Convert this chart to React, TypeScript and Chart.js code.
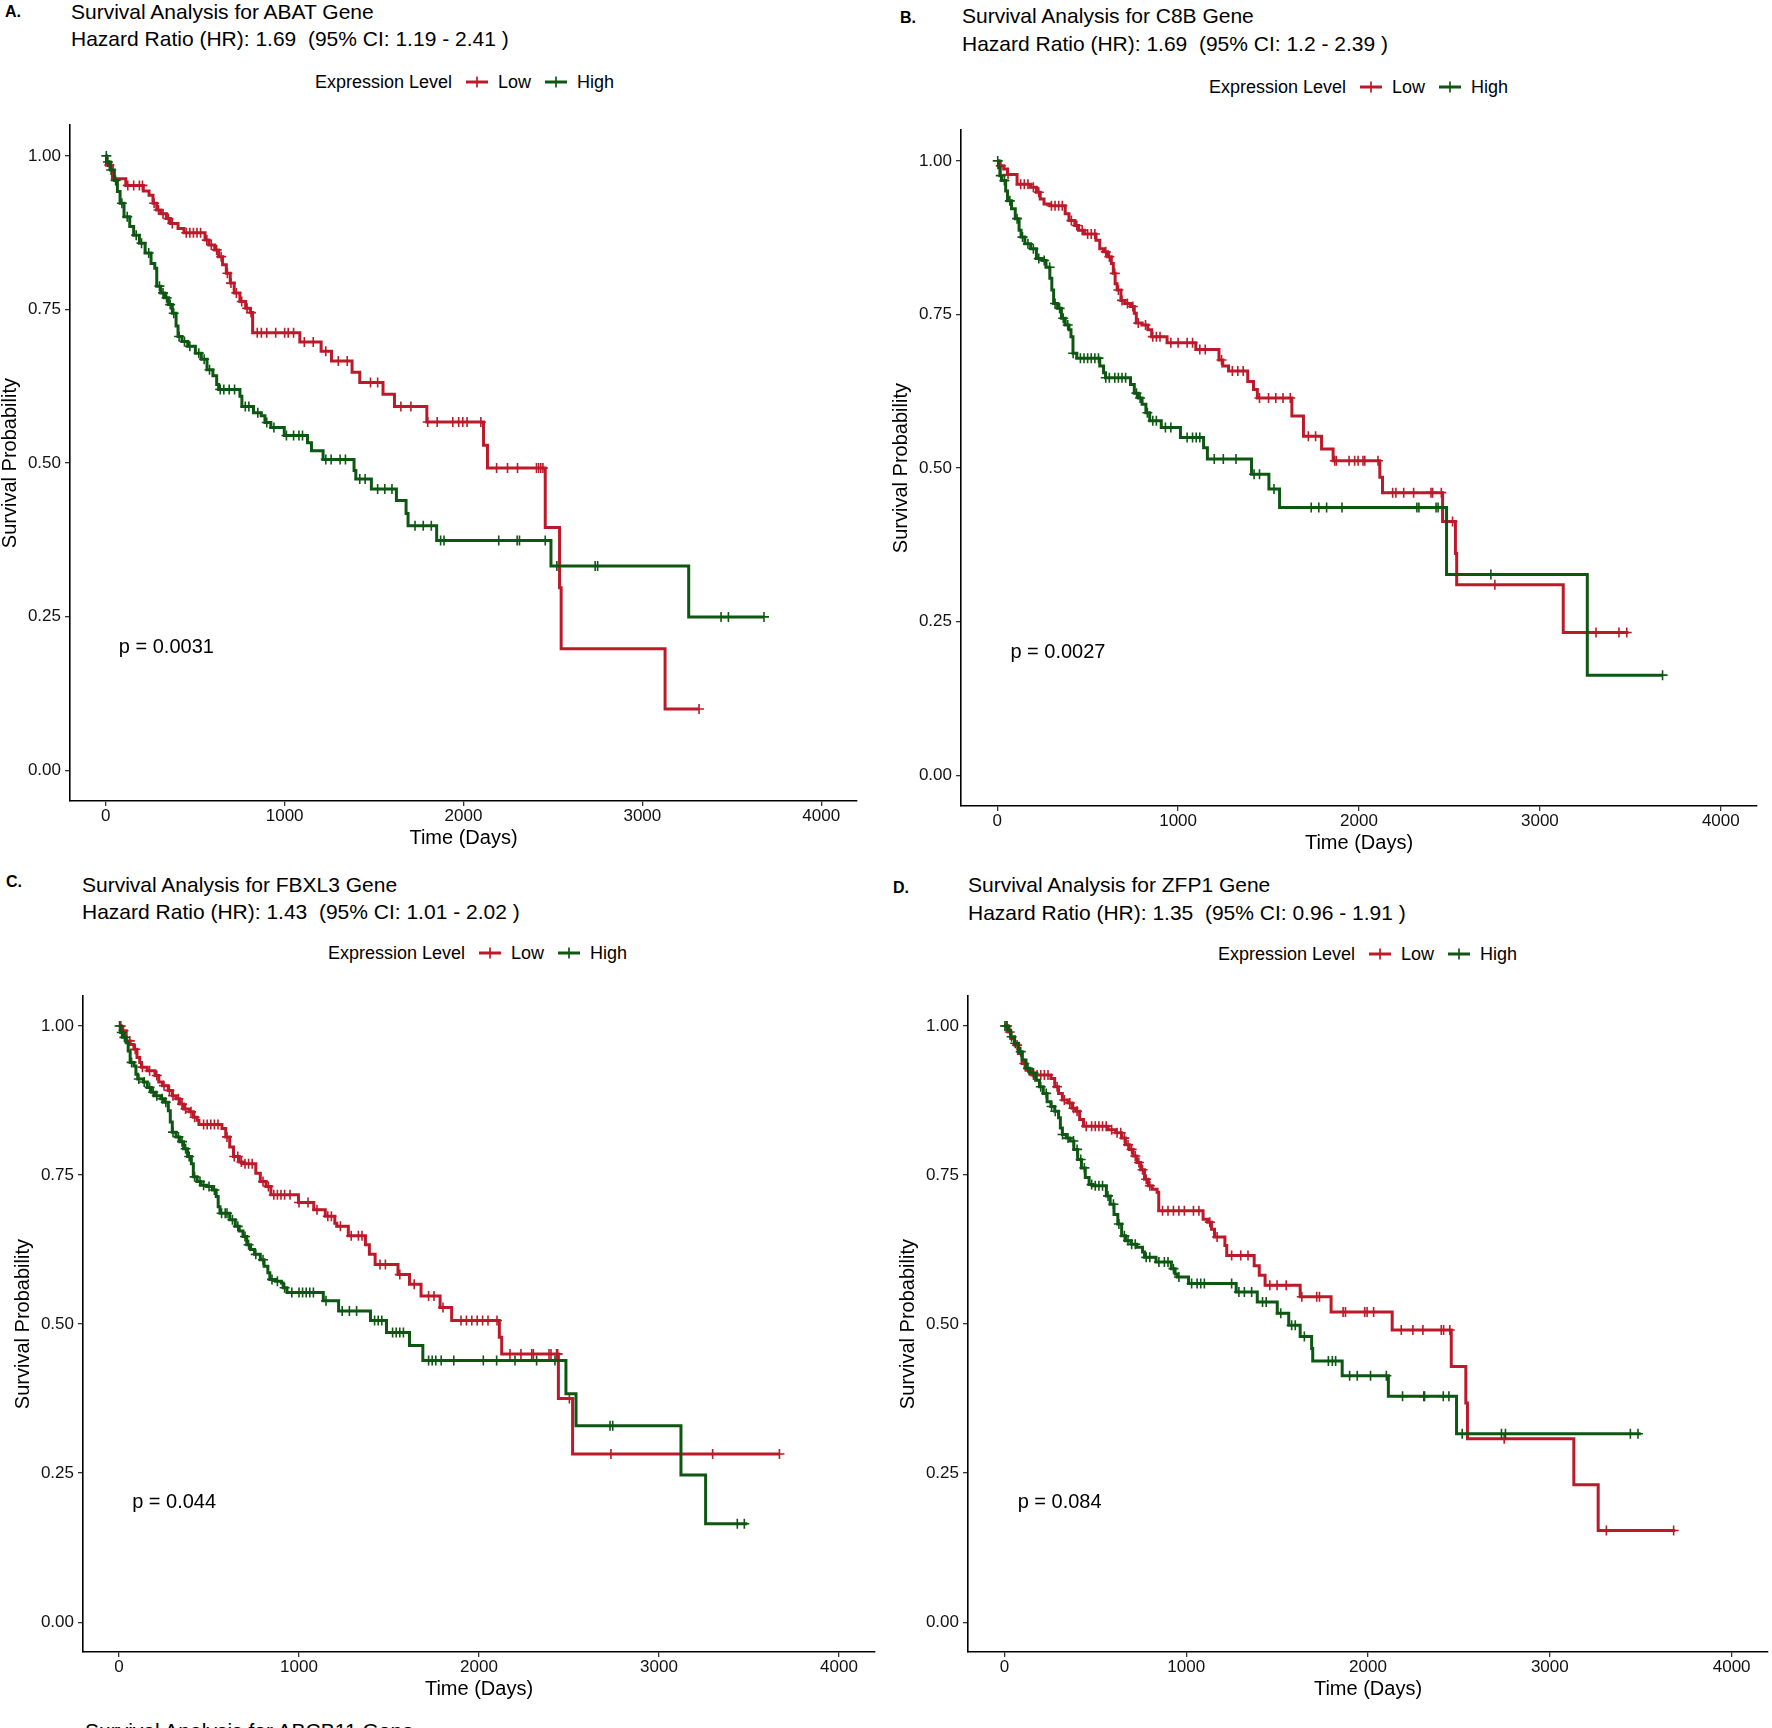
import React, { useEffect, useRef } from "react";
import { Chart, registerables } from "chart.js";

Chart.register(...registerables);

const FONT = '"Liberation Sans", Arial, Helvetica, sans-serif';
const RED = "#BC1A2A";
const GREEN = "#0D5712";

// ---------- shared axis data ----------
const xTickValues = [0, 1000, 2000, 3000, 4000];
const yTickValues = [0, 0.25, 0.5, 0.75, 1.0];
const groupLabels = ["Low", "High"];
const legendTitle = "Expression Level";
const xAxisTitle = "Time (Days)";
const yAxisTitle = "Survival Probability";
const pvalPosition = [73, 0.2]; // [days, probability]

// ---------- Panel A: ABAT ----------
const abatLowTimes = [0, 4, 37, 112, 210, 242, 264, 285, 307, 339, 361, 404, 437, 555, 577, 609, 631, 653, 674, 696, 718, 750, 782, 808, 821, 1085, 1204, 1262, 1377, 1420, 1550, 1614, 1795, 2112, 2134, 2457, 2537, 2546, 3127, 3317];
const abatLowSurv = [1, 0.985, 0.963, 0.952, 0.943, 0.936, 0.923, 0.912, 0.906, 0.898, 0.89, 0.882, 0.875, 0.863, 0.855, 0.847, 0.836, 0.823, 0.809, 0.793, 0.777, 0.763, 0.752, 0.745, 0.712, 0.697, 0.682, 0.666, 0.648, 0.631, 0.612, 0.592, 0.567, 0.529, 0.492, 0.395, 0.297, 0.198, 0.0998, 0.0998];
const abatLowCensor = [20, 123, 156, 188, 205, 270, 295, 320, 350, 372, 450, 470, 490, 510, 530, 565, 590, 620, 645, 680, 700, 730, 760, 790, 812, 847, 870, 900, 950, 1000, 1020, 1050, 1110, 1160, 1230, 1300, 1350, 1480, 1520, 1650, 1706, 1800, 1853, 1940, 1973, 1996, 2020, 2097, 2185, 2246, 2302, 2408, 2420, 2432, 2444, 3317];
const abatHighTimes = [0, 4, 26, 48, 65, 80, 102, 134, 156, 188, 220, 253, 274, 285, 307, 329, 350, 372, 393, 404, 426, 458, 501, 534, 566, 599, 620, 631, 750, 761, 826, 869, 890, 923, 998, 1128, 1150, 1215, 1388, 1398, 1485, 1625, 1679, 1690, 1850, 2489, 3259, 3680];
const abatHighSurv = [1, 0.99, 0.977, 0.96, 0.942, 0.923, 0.901, 0.885, 0.871, 0.858, 0.842, 0.825, 0.817, 0.788, 0.777, 0.769, 0.758, 0.744, 0.723, 0.706, 0.698, 0.69, 0.679, 0.669, 0.652, 0.642, 0.628, 0.62, 0.609, 0.592, 0.582, 0.577, 0.566, 0.558, 0.545, 0.533, 0.52, 0.506, 0.488, 0.474, 0.458, 0.439, 0.418, 0.398, 0.374, 0.3325, 0.2497, 0.2497];
const abatHighCensor = [3, 12, 30, 55, 90, 120, 170, 200, 240, 300, 320, 340, 360, 380, 410, 440, 470, 520, 550, 580, 640, 660, 690, 720, 780, 800, 850, 900, 940, 1010, 1050, 1080, 1100, 1230, 1260, 1310, 1340, 1420, 1450, 1520, 1560, 1600, 1729, 1775, 1820, 1872, 1891, 2197, 2300, 2313, 2457, 2522, 2736, 2750, 3440, 3481, 3680];

// ---------- Panel B: C8B ----------
const c8bLowTimes = [0, 15, 36, 57, 110, 185, 217, 238, 259, 291, 376, 397, 429, 450, 482, 546, 567, 588, 610, 631, 642, 652, 663, 684, 705, 737, 758, 769, 801, 833, 854, 939, 1098, 1226, 1247, 1279, 1385, 1417, 1438, 1629, 1693, 1793, 1857, 2115, 2130, 2462, 2533, 2540, 3129, 3490];
const c8bLowSurv = [1, 0.992, 0.987, 0.978, 0.962, 0.957, 0.949, 0.938, 0.93, 0.927, 0.914, 0.903, 0.895, 0.887, 0.881, 0.871, 0.857, 0.852, 0.844, 0.833, 0.817, 0.8, 0.79, 0.773, 0.768, 0.763, 0.752, 0.736, 0.733, 0.725, 0.714, 0.704, 0.693, 0.676, 0.666, 0.658, 0.641, 0.628, 0.614, 0.585, 0.552, 0.531, 0.512, 0.485, 0.46, 0.413, 0.361, 0.31, 0.2325, 0.2325];
const c8bLowCensor = [20, 60, 130, 150, 170, 200, 230, 300, 320, 340, 360, 410, 440, 470, 500, 520, 540, 600, 620, 650, 670, 690, 720, 750, 780, 820, 860, 880, 900, 960, 1000, 1050, 1080, 1120, 1150, 1240, 1300, 1330, 1360, 1450, 1500, 1540, 1580, 1620, 1720, 1760, 1866, 1875, 1945, 1976, 1995, 2022, 2032, 2105, 2186, 2204, 2247, 2302, 2398, 2407, 2455, 2517, 2751, 3310, 3437, 3480];
const c8bHighTimes = [0, 8, 15, 25, 47, 57, 79, 100, 121, 132, 153, 185, 217, 249, 270, 291, 302, 312, 334, 355, 376, 397, 408, 419, 440, 567, 588, 599, 737, 758, 780, 801, 822, 843, 907, 1013, 1141, 1162, 1406, 1502, 1561, 2484, 3262, 3678];
const c8bHighSurv = [1, 0.989, 0.976, 0.968, 0.951, 0.935, 0.922, 0.906, 0.887, 0.876, 0.865, 0.857, 0.841, 0.838, 0.827, 0.809, 0.79, 0.768, 0.76, 0.744, 0.733, 0.725, 0.714, 0.687, 0.679, 0.666, 0.655, 0.647, 0.636, 0.622, 0.614, 0.604, 0.59, 0.577, 0.566, 0.55, 0.533, 0.515, 0.49, 0.466, 0.436, 0.327, 0.163, 0.163];
const c8bHighCensor = [3, 20, 40, 70, 110, 140, 170, 200, 230, 260, 290, 320, 345, 365, 390, 420, 460, 480, 500, 520, 540, 560, 600, 620, 650, 670, 690, 710, 770, 790, 830, 860, 880, 930, 960, 1050, 1080, 1100, 1120, 1200, 1250, 1320, 1420, 1450, 1530, 1736, 1778, 1821, 1906, 2320, 2331, 2426, 2437, 2729, 3678];

// ---------- Panel C: FBXL3 ----------
const fbxl3LowTimes = [0, 15, 40, 62, 83, 100, 115, 125, 157, 200, 221, 242, 274, 296, 317, 338, 359, 391, 413, 434, 444, 572, 593, 615, 636, 668, 689, 760, 785, 817, 844, 997, 1082, 1146, 1199, 1210, 1274, 1369, 1391, 1423, 1550, 1614, 1678, 1784, 1848, 2113, 2126, 2441, 2520, 3669];
const fbxl3LowSurv = [1, 0.992, 0.975, 0.969, 0.961, 0.947, 0.939, 0.931, 0.925, 0.917, 0.906, 0.9, 0.892, 0.883, 0.878, 0.869, 0.861, 0.856, 0.847, 0.842, 0.835, 0.828, 0.814, 0.797, 0.781, 0.772, 0.769, 0.753, 0.739, 0.731, 0.717, 0.704, 0.692, 0.681, 0.669, 0.664, 0.648, 0.633, 0.617, 0.6, 0.583, 0.567, 0.547, 0.528, 0.506, 0.478, 0.45, 0.375, 0.282, 0.282];
const fbxl3LowCensor = [10, 25, 60, 90, 130, 170, 210, 250, 280, 300, 330, 350, 370, 400, 420, 470, 490, 510, 530, 550, 600, 640, 660, 680, 700, 720, 740, 800, 830, 860, 880, 900, 920, 950, 1000, 1050, 1100, 1160, 1180, 1230, 1290, 1330, 1350, 1450, 1480, 1560, 1640, 1720, 1750, 1800, 1900, 1930, 1960, 1990, 2020, 2050, 2100, 2172, 2233, 2293, 2302, 2389, 2400, 2431, 2437, 2502, 2733, 3298, 3669];
const fbxl3HighTimes = [0, 9, 19, 40, 51, 62, 83, 94, 104, 136, 157, 179, 200, 232, 253, 274, 285, 296, 317, 338, 359, 381, 402, 413, 434, 455, 487, 519, 540, 551, 561, 615, 646, 668, 689, 710, 731, 753, 785, 806, 827, 838, 870, 902, 912, 933, 1135, 1220, 1397, 1486, 1614, 1688, 2483, 2539, 3122, 3259, 3490];
const fbxl3HighSurv = [1, 0.989, 0.981, 0.972, 0.958, 0.939, 0.933, 0.919, 0.911, 0.906, 0.897, 0.889, 0.883, 0.878, 0.872, 0.858, 0.839, 0.822, 0.814, 0.806, 0.794, 0.781, 0.769, 0.747, 0.739, 0.733, 0.731, 0.725, 0.714, 0.697, 0.686, 0.675, 0.664, 0.656, 0.647, 0.633, 0.625, 0.617, 0.608, 0.597, 0.586, 0.575, 0.572, 0.569, 0.561, 0.553, 0.539, 0.522, 0.506, 0.486, 0.464, 0.439, 0.383, 0.3295, 0.247, 0.165, 0.165];
const fbxl3HighCensor = [3, 15, 30, 70, 110, 140, 170, 190, 210, 240, 260, 300, 330, 350, 370, 390, 420, 450, 470, 500, 530, 570, 590, 600, 630, 660, 700, 720, 760, 800, 850, 880, 920, 960, 1000, 1020, 1040, 1060, 1080, 1150, 1240, 1280, 1320, 1420, 1440, 1460, 1520, 1540, 1560, 1580, 1720, 1740, 1760, 1790, 1860, 2024, 2098, 2200, 2320, 2422, 2728, 2743, 3435, 3474];

// ---------- Panel D: ZFP1 ----------
const zfp1LowTimes = [0, 20, 35, 56, 77, 98, 119, 151, 256, 277, 298, 319, 350, 372, 393, 414, 435, 571, 613, 645, 666, 687, 708, 729, 750, 771, 792, 813, 840, 849, 1093, 1118, 1139, 1156, 1213, 1223, 1374, 1402, 1434, 1627, 1797, 2133, 2458, 2538, 2547, 3132, 3266, 3690];
const zfp1LowSurv = [1, 0.99, 0.979, 0.968, 0.954, 0.937, 0.926, 0.918, 0.912, 0.898, 0.887, 0.876, 0.871, 0.862, 0.857, 0.843, 0.832, 0.826, 0.821, 0.812, 0.801, 0.793, 0.782, 0.771, 0.759, 0.743, 0.732, 0.726, 0.721, 0.69, 0.676, 0.671, 0.659, 0.646, 0.632, 0.615, 0.598, 0.582, 0.565, 0.546, 0.5205, 0.49, 0.4288, 0.3677, 0.3077, 0.2305, 0.1538, 0.1538];
const zfp1LowCensor = [10, 30, 70, 110, 160, 180, 200, 220, 240, 290, 330, 360, 380, 400, 450, 480, 500, 520, 540, 560, 590, 620, 640, 660, 680, 700, 720, 740, 760, 780, 800, 870, 900, 930, 960, 990, 1040, 1070, 1130, 1170, 1250, 1300, 1340, 1460, 1500, 1550, 1636, 1718, 1733, 1863, 1876, 1982, 1995, 2031, 2183, 2247, 2302, 2403, 2416, 2450, 2749, 3311, 3681];
const zfp1HighTimes = [0, 20, 35, 56, 77, 98, 119, 140, 172, 193, 214, 235, 256, 277, 298, 308, 319, 340, 361, 382, 403, 424, 445, 466, 487, 561, 582, 603, 624, 645, 666, 697, 729, 760, 771, 834, 918, 939, 950, 1013, 1275, 1391, 1501, 1564, 1627, 1690, 1696, 1858, 2112, 2487, 3500];
const zfp1HighSurv = [1, 0.993, 0.982, 0.971, 0.957, 0.943, 0.929, 0.921, 0.909, 0.898, 0.887, 0.873, 0.865, 0.857, 0.846, 0.829, 0.818, 0.812, 0.807, 0.793, 0.776, 0.762, 0.746, 0.734, 0.732, 0.715, 0.701, 0.684, 0.668, 0.648, 0.64, 0.634, 0.629, 0.621, 0.612, 0.604, 0.593, 0.584, 0.579, 0.568, 0.554, 0.537, 0.518, 0.498, 0.479, 0.459, 0.438, 0.4133, 0.3788, 0.316, 0.316];
const zfp1HighCensor = [3, 15, 40, 60, 90, 130, 160, 200, 230, 260, 280, 320, 350, 380, 400, 420, 440, 480, 500, 520, 540, 570, 600, 630, 660, 680, 700, 720, 780, 800, 850, 880, 900, 930, 960, 1030, 1060, 1080, 1100, 1250, 1290, 1320, 1360, 1420, 1440, 1520, 1580, 1600, 1650, 1782, 1804, 1822, 1899, 1941, 2014, 2101, 2190, 2307, 2311, 2414, 2445, 2518, 2734, 2756, 3443, 3485];

// ---------- panel text ----------
const panelLetters = ["A.", "B.", "C.", "D."];
const panelGenes = ["ABAT", "C8B", "FBXL3", "ZFP1"];
const panelHR = ["1.69", "1.69", "1.43", "1.35"];
const panelCI = ["1.19 - 2.41", "1.2 - 2.39", "1.01 - 2.02", "0.96 - 1.91"];
const panelP = ["0.0031", "0.0027", "0.044", "0.084"];
const nextPanelTitle = "Survival Analysis for ABCB11 Gene";

// ---------- layout (pixels) ----------
type Layout = {
  axisX: number; right: number; top: number; bottom: number;
  letterX: number; letterY: number; titleX: number; titleY: number; subY: number;
  legX: number; legY: number;
};
const layouts: Layout[] = [
  { axisX: 70, right: 857, top: 121, bottom: 801, letterX: 5, letterY: 12, titleX: 71, titleY: 12, subY: 39, legX: 315, legY: 82 },
  { axisX: 961, right: 1757, top: 126, bottom: 806, letterX: 900, letterY: 18, titleX: 962, titleY: 16, subY: 44, legX: 1209, legY: 87 },
  { axisX: 83, right: 875, top: 992, bottom: 1652, letterX: 6, letterY: 882, titleX: 82, titleY: 885, subY: 912, legX: 328, legY: 953 },
  { axisX: 968, right: 1768, top: 992, bottom: 1652, letterX: 893, letterY: 888, titleX: 968, titleY: 885, subY: 913, legX: 1218, legY: 954 },
];

type Series = { t: number[]; s: number[]; c: number[] };
const panelSeries: { low: Series; high: Series }[] = [
  { low: { t: abatLowTimes, s: abatLowSurv, c: abatLowCensor }, high: { t: abatHighTimes, s: abatHighSurv, c: abatHighCensor } },
  { low: { t: c8bLowTimes, s: c8bLowSurv, c: c8bLowCensor }, high: { t: c8bHighTimes, s: c8bHighSurv, c: c8bHighCensor } },
  { low: { t: fbxl3LowTimes, s: fbxl3LowSurv, c: fbxl3LowCensor }, high: { t: fbxl3HighTimes, s: fbxl3HighSurv, c: fbxl3HighCensor } },
  { low: { t: zfp1LowTimes, s: zfp1LowSurv, c: zfp1LowCensor }, high: { t: zfp1HighTimes, s: zfp1HighSurv, c: zfp1HighCensor } },
];

function survAt(t: number[], s: number[], time: number): number {
  let v = s[0];
  for (let i = 0; i < t.length; i++) {
    if (t[i] <= time) v = s[i];
    else break;
  }
  return v;
}

const Y_W = 72;
const X_H = 49;
const PAD_T = 10;
const PAD_R = 3;
const PAD_B = 2;
const LINE_W = 3;

function KMChart({ idx }: { idx: number }) {
  const ref = useRef<HTMLCanvasElement>(null);
  const L = layouts[idx];
  const cw = L.right - L.axisX + Y_W + PAD_R;
  const ch = L.bottom - L.top + PAD_T + X_H + PAD_B;
  const left = L.axisX - Y_W;
  const top = L.top - PAD_T;

  useEffect(() => {
    if (!ref.current) return;
    const ser = panelSeries[idx];
    const steps = (d: Series) => d.t.map((v, i) => ({ x: v, y: d.s[i] }));
    const cens = (d: Series) => d.c.map((v) => ({ x: v, y: survAt(d.t, d.s, v) }));
    const pText = "p = " + panelP[idx];

    const chart = new Chart(ref.current, {
      type: "line",
      data: {
        datasets: [
          {
            label: groupLabels[1] + " censored",
            data: cens(ser.high),
            showLine: false,
            pointStyle: "cross",
            pointRadius: 5,
            pointHoverRadius: 5,
            borderColor: GREEN,
            backgroundColor: GREEN,
            pointBorderWidth: 1.6,
            order: 0,
          },
          {
            label: groupLabels[1],
            data: steps(ser.high),
            stepped: true,
            borderColor: GREEN,
            borderWidth: LINE_W,
            pointRadius: 0,
            fill: false,
            borderJoinStyle: "miter",
            order: 1,
          },
          {
            label: groupLabels[0] + " censored",
            data: cens(ser.low),
            showLine: false,
            pointStyle: "cross",
            pointRadius: 5,
            pointHoverRadius: 5,
            borderColor: RED,
            backgroundColor: RED,
            pointBorderWidth: 1.6,
            order: 2,
          },
          {
            label: groupLabels[0],
            data: steps(ser.low),
            stepped: true,
            borderColor: RED,
            borderWidth: LINE_W,
            pointRadius: 0,
            fill: false,
            borderJoinStyle: "miter",
            order: 3,
          },
        ],
      },
      options: {
        responsive: false,
        animation: false,
        events: [],
        layout: { autoPadding: false, padding: { left: 0, top: PAD_T, right: PAD_R, bottom: PAD_B } },
        plugins: { legend: { display: false }, tooltip: { enabled: false }, title: { display: false } },
        scales: {
          x: {
            type: "linear",
            min: -200,
            max: 4200,
            afterBuildTicks: (s: any) => {
              s.ticks = xTickValues.map((v) => ({ value: v }));
            },
            afterFit: (s: any) => {
              s.height = X_H;
            },
            grid: { display: true, drawOnChartArea: false, drawTicks: true, tickLength: 5, color: "#333", lineWidth: 1.3 },
            border: { display: true, color: "#000", width: 1.6 },
            ticks: {
              font: { family: FONT, size: 17 },
              color: "#111",
              padding: 0,
              maxRotation: 0,
              autoSkip: false,
              callback: (v: any) => String(v),
            },
            title: { display: true, text: xAxisTitle, font: { family: FONT, size: 20, lineHeight: 1.2 }, color: "#000", padding: 0 },
          },
          y: {
            type: "linear",
            min: -0.05,
            max: 1.05,
            afterBuildTicks: (s: any) => {
              s.ticks = yTickValues.map((v) => ({ value: v }));
            },
            afterFit: (s: any) => {
              s.width = Y_W;
            },
            grid: { display: true, drawOnChartArea: false, drawTicks: true, tickLength: 5, color: "#333", lineWidth: 1.3 },
            border: { display: true, color: "#000", width: 1.6 },
            ticks: {
              font: { family: FONT, size: 17 },
              color: "#111",
              padding: 4,
              autoSkip: false,
              callback: (v: any) => Number(v).toFixed(2),
            },
            title: { display: true, text: yAxisTitle, font: { family: FONT, size: 20, lineHeight: 1.2 }, color: "#000", padding: 0 },
          },
        },
      },
      plugins: [
        {
          id: "pvalText",
          afterDatasetsDraw(c: any) {
            const ctx = c.ctx;
            ctx.save();
            ctx.font = `20px ${FONT}`;
            ctx.fillStyle = "#000";
            ctx.textAlign = "left";
            ctx.textBaseline = "middle";
            ctx.fillText(pText, c.scales.x.getPixelForValue(pvalPosition[0]), c.scales.y.getPixelForValue(pvalPosition[1]));
            ctx.restore();
          },
        },
      ],
    } as any);
    return () => chart.destroy();
  }, [idx]);

  return (
    <canvas
      ref={ref}
      width={cw}
      height={ch}
      style={{ position: "absolute", left, top, width: cw, height: ch }}
    />
  );
}

function Txt({ x, cy, size, lh, bold, children }: { x: number; cy: number; size: number; lh: number; bold?: boolean; children: React.ReactNode }) {
  return (
    <div
      style={{
        position: "absolute",
        left: x,
        top: cy - lh / 2,
        fontSize: size,
        lineHeight: lh + "px",
        fontWeight: bold ? 700 : 400,
        whiteSpace: "pre",
        color: "#000",
        fontFamily: FONT,
      }}
    >
      {children}
    </div>
  );
}

function LegendKey({ color }: { color: string }) {
  return (
    <svg width={22} height={14} style={{ display: "block" }}>
      <line x1={0} y1={7} x2={22} y2={7} stroke={color} strokeWidth={3} />
      <line x1={11} y1={1.5} x2={11} y2={12.5} stroke={color} strokeWidth={1.7} />
    </svg>
  );
}

function Legend({ x, cy }: { x: number; cy: number }) {
  return (
    <div
      style={{
        position: "absolute",
        left: x,
        top: cy - 11,
        height: 22,
        display: "flex",
        alignItems: "center",
        fontFamily: FONT,
        fontSize: 18,
        lineHeight: "22px",
        whiteSpace: "pre",
        color: "#000",
      }}
    >
      <span>{legendTitle}</span>
      <span style={{ width: 14 }} />
      <LegendKey color={RED} />
      <span style={{ width: 10 }} />
      <span>{groupLabels[0]}</span>
      <span style={{ width: 14 }} />
      <LegendKey color={GREEN} />
      <span style={{ width: 10 }} />
      <span>{groupLabels[1]}</span>
    </div>
  );
}

function Panel({ idx }: { idx: number }) {
  const L = layouts[idx];
  return (
    <>
      <Txt x={L.letterX} cy={L.letterY} size={16} lh={18} bold>
        {panelLetters[idx]}
      </Txt>
      <Txt x={L.titleX} cy={L.titleY} size={21} lh={24}>
        {"Survival Analysis for " + panelGenes[idx] + " Gene"}
      </Txt>
      <Txt x={L.titleX} cy={L.subY} size={21} lh={24}>
        {"Hazard Ratio (HR): " + panelHR[idx] + "  (95% CI: " + panelCI[idx] + " )"}
      </Txt>
      <Legend x={L.legX} cy={L.legY} />
      <KMChart idx={idx} />
    </>
  );
}

export default function App() {
  return (
    <div
      style={{
        position: "absolute",
        left: 0,
        top: 0,
        width: 1772,
        height: 1728,
        overflow: "hidden",
        background: "#fff",
        fontFamily: FONT,
      }}
    >
      {[0, 1, 2, 3].map((i) => (
        <Panel key={i} idx={i} />
      ))}
      <Txt x={85} cy={1731} size={21} lh={24}>
        {nextPanelTitle}
      </Txt>
    </div>
  );
}
